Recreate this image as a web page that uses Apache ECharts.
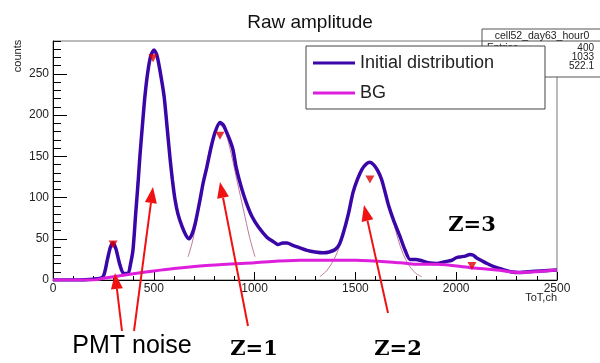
<!DOCTYPE html>
<html>
<head>
<meta charset="utf-8">
<script src="https://cdn.jsdelivr.net/npm/echarts@6.0.0/dist/echarts.min.js"></script>
<style>
  html, body { margin: 0; padding: 0; background: #fff; }
  #main { width: 600px; height: 363px; }
</style>
</head>
<body>
<div id="main"></div>
<script>
// ToT channel / counts
var initialDistribution = [
  [0, 0], [100, 0], [200, 1], [248, 4], [270, 25], [285, 40], [298, 45], [312, 38],
  [330, 20], [350, 8], [372, 8], [385, 20], [397, 37], [410, 80], [422, 118], [431, 150],
  [445, 192], [456, 223], [470, 252], [485, 272], [501, 279], [515, 273], [530, 255],
  [551, 223], [565, 188], [580, 149], [592, 122], [605, 98], [620, 80], [640, 65],
  [660, 54], [675, 50], [690, 56], [705, 68], [729, 97], [745, 118], [764, 138],
  [785, 162], [805, 180], [828, 191], [845, 188], [860, 180], [880, 168], [893, 158],
  [910, 135], [937, 110], [960, 93], [987, 77], [1020, 64], [1061, 52], [1090, 47],
  [1116, 43], [1140, 45], [1161, 45], [1190, 42], [1225, 39], [1260, 36], [1300, 34],
  [1340, 33], [1370, 34], [1400, 37], [1420, 43], [1440, 57], [1465, 80], [1488, 106],
  [1510, 122], [1532, 134], [1555, 141], [1572, 143], [1590, 140], [1610, 133],
  [1630, 122], [1650, 104], [1665, 90], [1690, 72], [1721, 53], [1745, 37], [1771, 25],
  [1800, 25], [1820, 24], [1860, 21], [1905, 20], [1940, 22], [1979, 24], [2000, 27],
  [2019, 28], [2045, 29], [2068, 31], [2085, 30], [2100, 27], [2130, 23], [2153, 20],
  [2190, 16], [2227, 13], [2270, 10], [2316, 9], [2360, 10], [2420, 11], [2500, 12]
];
var background = [
  [0, 0], [200, 0], [250, 2], [300, 4], [382, 7], [500, 11], [600, 14], [779, 18],
  [1000, 21], [1225, 24], [1500, 24], [1721, 21], [1820, 19], [1905, 19], [2068, 15],
  [2200, 12], [2316, 9], [2400, 10], [2500, 12]
];
var fitZ1 = [
  [670, 28], [690, 45], [710, 68], [740, 108], [770, 150], [800, 178], [828, 188],
  [855, 180], [885, 152], [915, 118], [945, 85], [975, 52], [1002, 28]
];
var fitZ2 = [
  [1324, 4], [1360, 12], [1400, 28], [1433, 50], [1470, 88], [1510, 122], [1545, 138],
  [1572, 142], [1600, 136], [1640, 112], [1680, 78], [1721, 42], [1760, 20], [1800, 8], [1830, 4]
];
var peakMarkers = [[298, 43], [496, 269], [828, 175], [1572, 122], [2078, 17]];

var xTicks = [0, 500, 1000, 1500, 2000, 2500];
var yTicks = [0, 50, 100, 150, 200, 250];
var statsRows = [['Entries', '400'], ['Mean', '1033'], ['Std Dev', '522.1']];

// annotation arrows in pixels: tail x, tail y, tip x, tip y
var arrowList = [
  [122, 331, 115, 273],
  [134, 331, 153, 187],
  [248, 326, 220, 182],
  [388, 313, 364, 205]
];

var RED = '#f01212';
function arrowShapes(a) {
  var ang = Math.atan2(a[3] - a[1], a[2] - a[0]);
  var L = 16, W = 6;
  var bx = a[2] - L * Math.cos(ang), by = a[3] - L * Math.sin(ang);
  var px = -Math.sin(ang) * W, py = Math.cos(ang) * W;
  return [
    { type: 'line', z: 20, shape: { x1: a[0], y1: a[1], x2: bx, y2: by }, style: { stroke: RED, lineWidth: 2 } },
    { type: 'polygon', z: 20, shape: { points: [[a[2], a[3]], [bx + px, by + py], [bx - px, by - py]] }, style: { fill: RED } }
  ];
}

var graphics = [];
// stats box
graphics.push({ type: 'rect', z: 10, shape: { x: 482, y: 29, width: 130, height: 48 }, style: { fill: '#fff', stroke: '#555', lineWidth: 1 } });
graphics.push({ type: 'line', z: 10, shape: { x1: 482, y1: 41, x2: 600, y2: 41 }, style: { stroke: '#555', lineWidth: 1 } });
graphics.push({ type: 'text', z: 10, style: { text: 'cell52_day63_hour0', x: 542, y: 36, align: 'center', verticalAlign: 'middle', font: '10.5px "Liberation Sans"', fill: '#222' } });
statsRows.forEach(function (r, i) {
  graphics.push({ type: 'text', z: 10, style: { text: r[0], x: 487, y: 48 + i * 9, verticalAlign: 'middle', font: '10px "Liberation Sans"', fill: '#222' } });
  graphics.push({ type: 'text', z: 10, style: { text: r[1], x: 594, y: 48 + i * 9, align: 'right', verticalAlign: 'middle', font: '10px "Liberation Sans"', fill: '#222' } });
});
// legend frame
graphics.push({ type: 'rect', z: 11, shape: { x: 306, y: 46, width: 239, height: 63 }, style: { fill: '#fff', stroke: '#444', lineWidth: 1 } });
// axis titles
graphics.push({ type: 'text', z: 10, x: 18, y: 56, rotation: Math.PI / 2, style: { text: 'counts', align: 'center', verticalAlign: 'middle', font: '11px "Liberation Sans"', fill: '#222' } });
graphics.push({ type: 'text', z: 10, style: { text: 'ToT,ch', x: 557, y: 298, align: 'right', verticalAlign: 'middle', font: '11px "Liberation Sans"', fill: '#222' } });
// labels
graphics.push({ type: 'text', z: 20, style: { text: 'PMT noise', x: 132, y: 359, align: 'center', verticalAlign: 'bottom', font: '25px "Liberation Sans"', fill: '#000' } });
var zFont = 'bold 21px "DejaVu Serif"';
graphics.push({ type: 'text', z: 20, style: { text: 'Z=1', x: 254, y: 350, align: 'center', verticalAlign: 'middle', font: zFont, fill: '#000' } });
graphics.push({ type: 'text', z: 20, style: { text: 'Z=2', x: 398, y: 350, align: 'center', verticalAlign: 'middle', font: zFont, fill: '#000' } });
graphics.push({ type: 'text', z: 20, style: { text: 'Z=3', x: 472, y: 226, align: 'center', verticalAlign: 'middle', font: zFont, fill: '#000' } });
arrowList.forEach(function (a) { graphics = graphics.concat(arrowShapes(a)); });

var chart = echarts.init(document.getElementById('main'));
chart.setOption({
  animation: false,
  backgroundColor: '#fff',
  title: {
    text: 'Raw amplitude', left: 305, top: 8, textAlign: 'center',
    textStyle: { fontFamily: 'Liberation Sans', fontSize: 19, fontWeight: 'normal', color: '#111' }
  },
  legend: {
    orient: 'vertical', left: 306, top: 46, padding: [8, 7, 4, 7], itemGap: 12,
    icon: 'rect', itemWidth: 42, itemHeight: 3, z: 12,
    data: ['Initial distribution', 'BG'],
    textStyle: { fontFamily: 'Liberation Sans', fontSize: 18, color: '#222' }
  },
  grid: { left: 53, right: 43, top: 41, bottom: 83, show: true, borderColor: '#777', borderWidth: 1 },
  xAxis: {
    type: 'value', min: 0, max: 2500, interval: 500,
    axisLine: { onZero: false, lineStyle: { color: '#000' } },
    axisTick: { inside: true, length: 8, lineStyle: { color: '#000' } },
    minorTick: { show: true, splitNumber: 5, length: 4, lineStyle: { color: '#000' } },
    axisLabel: { margin: 3, fontFamily: 'Liberation Sans', fontSize: 12, color: '#222', customValues: xTicks,
      formatter: function (v) { return String(v); } },
    splitLine: { show: false }
  },
  yAxis: [{
    type: 'value', min: 0, max: 290, interval: 10,
    axisLine: { show: true, lineStyle: { color: '#000' } },
    axisTick: { inside: true, length: 8, lineStyle: { color: '#000' } },
    axisLabel: { margin: 4, fontFamily: 'Liberation Sans', fontSize: 12, color: '#222', customValues: yTicks,
      formatter: function (v) { return String(v); } },
    splitLine: { show: false }
  }, {
    type: 'value', min: 0, max: 290, interval: 10, position: 'left',
    axisLine: { show: false },
    axisTick: { show: true, inside: true, length: 14, customValues: yTicks, lineStyle: { color: '#000' } },
    axisLabel: { show: false },
    splitLine: { show: false }
  }],
  series: [
    { name: 'fitZ1', type: 'line', data: fitZ1, smooth: 0.3, symbol: 'none', z: 1,
      lineStyle: { color: '#c07898', width: 1 } },
    { name: 'fitZ2', type: 'line', data: fitZ2, smooth: 0.3, symbol: 'none', z: 1,
      lineStyle: { color: '#c07898', width: 1 } },
    { name: 'Initial distribution', type: 'line', data: initialDistribution, smooth: 0.25, symbol: 'none', z: 3,
      color: '#3a06a8', lineStyle: { color: '#3a06a8', width: 3.5 } },
    { name: 'BG', type: 'line', data: background, smooth: 0.3, symbol: 'none', z: 4,
      color: '#dd1fdd', lineStyle: { color: '#dd1fdd', width: 3 } },
    { name: 'peaks', type: 'scatter', data: peakMarkers, symbol: 'triangle', symbolRotate: 180, symbolSize: [9, 8], z: 5,
      itemStyle: { color: '#e00000' } }
  ],
  graphic: graphics
});
</script>
</body>
</html>
